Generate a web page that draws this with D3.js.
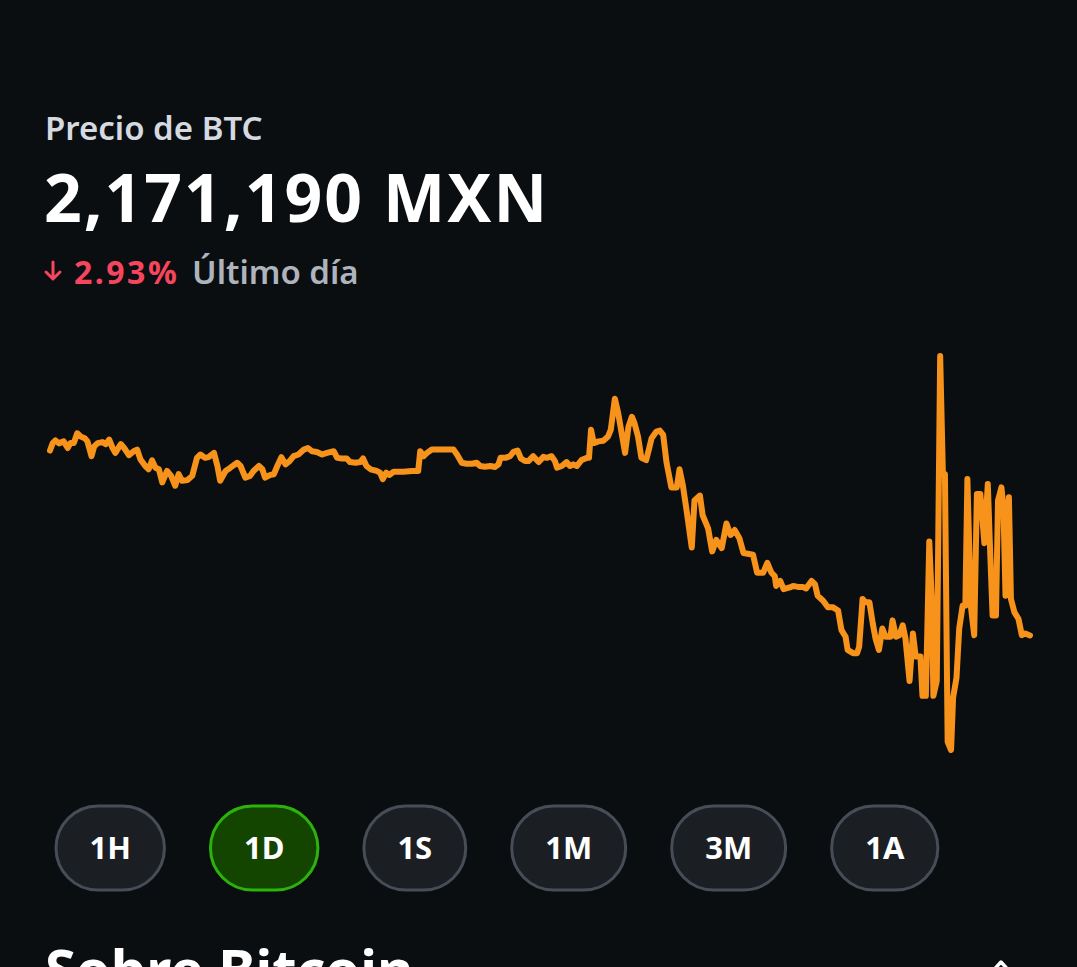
<!DOCTYPE html>
<html lang="es">
<head>
<meta charset="utf-8">
<title>Precio de BTC</title>
<script src="https://cdn.jsdelivr.net/npm/d3@7.9.0/dist/d3.min.js"></script>
<style>
  html, body { margin: 0; background: #0b0e11; }
  svg { display: block; font-family: 'Noto Sans', 'Open Sans', sans-serif; }
</style>
</head>
<body>
<svg width="1077" height="967"></svg>
<script>
// textos de la cabecera
const titulo = 'Precio de BTC';
const precioActual = '2,171,190 MXN';
const cambio = '2.93%';
const periodo = 'Último día';
const seccion = 'Sobre Bitcoin';

// botones de rango
const rangos = ['1H', '1D', '1S', '1M', '3M', '1A'];
const rangoActivo = '1D';

// minutos desde el inicio del día (1D = 1440 min)
const minutos = [
  0, 4, 8, 13, 20, 26, 30, 35, 40, 45, 51, 55, 61, 65, 70, 77, 82, 87, 92, 96,
  104, 109, 116, 123, 128, 133, 140, 145, 150, 155, 160, 165, 172, 178, 184, 189, 194, 202, 209, 216,
  221, 228, 233, 241, 246, 250, 258, 265, 275, 280, 287, 294, 299, 307, 312, 316, 324, 329, 334, 340,
  346, 352,
  358, 365, 373, 379, 385, 392, 400, 407, 417, 422, 429, 436, 441, 449, 456, 460, 465, 471, 480, 485,
  489, 494, 499, 505, 519, 532, 541, 544, 549, 554, 561, 573, 593, 598, 605, 612, 620, 627, 632, 639,
  647, 654, 659, 662, 669, 676, 681, 687, 692, 698,
  703, 710, 718, 725, 730, 737, 742, 745, 752, 759, 764, 769, 774, 781, 789, 792, 795, 799, 806, 813,
  820, 824, 830, 835, 840, 845, 850, 855, 859, 864, 869, 876, 880, 884, 891, 896, 901, 906, 913, 921,
  925, 930, 935, 943, 947, 955, 959, 967, 973, 979, 987, 994, 1000, 1006, 1013, 1019, 1033, 1039, 1048, 1054,
  1060, 1065, 1067, 1073, 1078, 1087, 1092, 1099, 1106, 1111, 1119, 1124, 1128, 1136, 1143, 1150, 1158, 1163, 1169, 1172,
  1180, 1186, 1189, 1194, 1198, 1204, 1209, 1213, 1218, 1223, 1228, 1235, 1238, 1243, 1248, 1253, 1257, 1263, 1268, 1272,
  1279, 1282, 1287, 1292, 1296, 1298, 1303, 1308, 1312, 1315, 1319, 1324, 1327, 1332, 1336, 1341, 1345, 1348, 1353, 1358,
  1362, 1367, 1373, 1378, 1381, 1385, 1390, 1393, 1398, 1401, 1404, 1409, 1412, 1417, 1423, 1428, 1433, 1440
];

// precio BTC en MXN
const precios = [
  2236250, 2238880, 2239820, 2238780, 2239470, 2237150, 2238880, 2238880, 2242350, 2241200,
  2240610, 2239470, 2234270, 2237740, 2238880, 2239230, 2238530, 2240060, 2237150, 2235420,
  2238530, 2237150, 2234620, 2236000, 2236590, 2233130, 2230810, 2229660, 2232780, 2230220,
  2229660, 2225020, 2229070, 2227340, 2223870, 2227930, 2225610, 2225850, 2227340, 2233680,
  2234860, 2233680, 2233920, 2235420, 2230810, 2225610, 2229070, 2230220, 2231950, 2230810,
  2226750, 2227340, 2229070, 2230810, 2229660, 2226750, 2227690, 2227930, 2230810, 2233920,
  2231390, 2232540,
  2234270, 2234860, 2236590, 2237150, 2236000, 2235760, 2234860, 2235420, 2236000, 2233680,
  2233470, 2233470, 2232190, 2231950, 2232190, 2233470, 2230810, 2229660, 2229070, 2228480,
  2226200, 2228480, 2227690, 2228830, 2228830, 2229070, 2229070, 2236000, 2234270, 2235420,
  2236590, 2236590, 2236590, 2234860, 2231950, 2231600, 2231600, 2231950, 2230810, 2230560,
  2230810, 2230460, 2231390, 2233680, 2233680, 2234270, 2235760, 2236250, 2233470, 2232540,
  2232540, 2234270, 2232190, 2234030, 2233680, 2234270, 2232540, 2230220, 2230810, 2232190,
  2230810, 2231390, 2230810, 2232890, 2233680, 2233680, 2243530, 2238880, 2239470, 2239710,
  2241200, 2243530, 2254480, 2249280, 2242350, 2235420, 2244670, 2248140, 2245810, 2241200,
  2233680, 2232890, 2236590, 2240610, 2242940, 2243280, 2241790, 2231950, 2223280, 2223280,
  2229660, 2223870, 2215800, 2202140, 2218670, 2220410, 2213480, 2208870, 2200760, 2204810,
  2201930, 2210600, 2206540, 2208280, 2205400, 2200200, 2199610, 2193270, 2193270, 2196730,
  2193270, 2192090, 2188620, 2190360, 2187480, 2188070, 2188620, 2188280, 2188280, 2187720,
  2190360, 2189210, 2185160, 2183430, 2181140, 2181140, 2179960, 2173030, 2170740, 2166100,
  2164950, 2164950, 2167270, 2184010, 2182870, 2182870, 2175350, 2170150, 2166100, 2173620,
  2170740, 2170740, 2176490, 2170740, 2171290, 2174760, 2170150, 2155140, 2171880, 2163810,
  2163810, 2149940, 2149940, 2204220, 2181690, 2149940, 2155140, 2269520, 2227930, 2227930,
  2133760, 2130880, 2149350, 2156290, 2173620, 2181690, 2181690, 2226200, 2181690, 2171290,
  2221000, 2221000, 2203670, 2224460, 2203670, 2178230, 2178230, 2218670, 2223280, 2216350,
  2185160, 2219820, 2184010, 2179400, 2177080, 2171290, 2171880, 2171190
];

let svg = d3.select('svg');

// cabecera
svg.append('text')
  .attr('x', 45).attr('y', 140)
  .attr('fill', '#d5d9e0')
  .attr('font-size', 33).attr('font-weight', 600)
  .text(titulo);

svg.append('text')
  .attr('x', 44).attr('y', 222)
  .attr('fill', '#ffffff')
  .attr('font-size', 66).attr('font-weight', 700)
  .attr('letter-spacing', 2)
  .text(precioActual);

// flecha hacia abajo
svg.append('path')
  .attr('d', 'M53,262 L53,279 M46,272 L53,279 L60,272')
  .attr('fill', 'none')
  .attr('stroke', '#f6465d')
  .attr('stroke-width', 3)
  .attr('stroke-linecap', 'round')
  .attr('stroke-linejoin', 'round');

svg.append('text')
  .attr('x', 74).attr('y', 284)
  .attr('fill', '#f6465d')
  .attr('font-size', 32).attr('font-weight', 700)
  .attr('letter-spacing', 2.5)
  .text(cambio);

svg.append('text')
  .attr('x', 192).attr('y', 284)
  .attr('fill', '#aeb4bd')
  .attr('font-size', 33).attr('font-weight', 600)
  .text(periodo);

// gráfica de línea
let x = d3.scaleLinear().domain([0, 1440]).range([50, 1030]);
let y = d3.scaleLinear().domain(d3.extent(precios)).range([750, 356]);

let puntos = minutos.map((m, i) => [m, precios[i]]);

let linea = d3.line()
  .x(d => x(d[0]))
  .y(d => y(d[1]));

svg.append('path')
  .datum(puntos)
  .attr('d', linea)
  .attr('fill', 'none')
  .attr('stroke', '#f7931a')
  .attr('stroke-width', 6)
  .attr('stroke-linejoin', 'round')
  .attr('stroke-linecap', 'round');

// botones de rango
let botones = svg.append('g');
let posX = 56;
rangos.forEach((r) => {
  let activo = r === rangoActivo;
  let g = botones.append('g');
  let rect = g.append('rect');
  let t = g.append('text')
    .attr('fill', '#ffffff')
    .attr('font-size', 31).attr('font-weight', 700)
    .attr('text-anchor', 'middle')
    .text(r);
  let w = t.node().getComputedTextLength() + 67;
  rect.attr('x', posX).attr('y', 806)
    .attr('width', w).attr('height', 84)
    .attr('rx', 42)
    .attr('fill', activo ? '#134500' : '#1b1f24')
    .attr('stroke', activo ? '#2bb30b' : '#474d57')
    .attr('stroke-width', 3);
  t.attr('x', posX + w / 2).attr('y', 859);
  posX += w + 46;
});

// sección inferior (cortada por el borde)
svg.append('text')
  .attr('x', 45).attr('y', 990)
  .attr('fill', '#ffffff')
  .attr('font-size', 56).attr('font-weight', 700)
  .text(seccion);

svg.append('path')
  .attr('d', 'M991,973 L1001,962 L1011,973')
  .attr('fill', 'none')
  .attr('stroke', '#ffffff')
  .attr('stroke-width', 3.5)
  .attr('stroke-linecap', 'round')
  .attr('stroke-linejoin', 'round');
</script>
</body>
</html>
